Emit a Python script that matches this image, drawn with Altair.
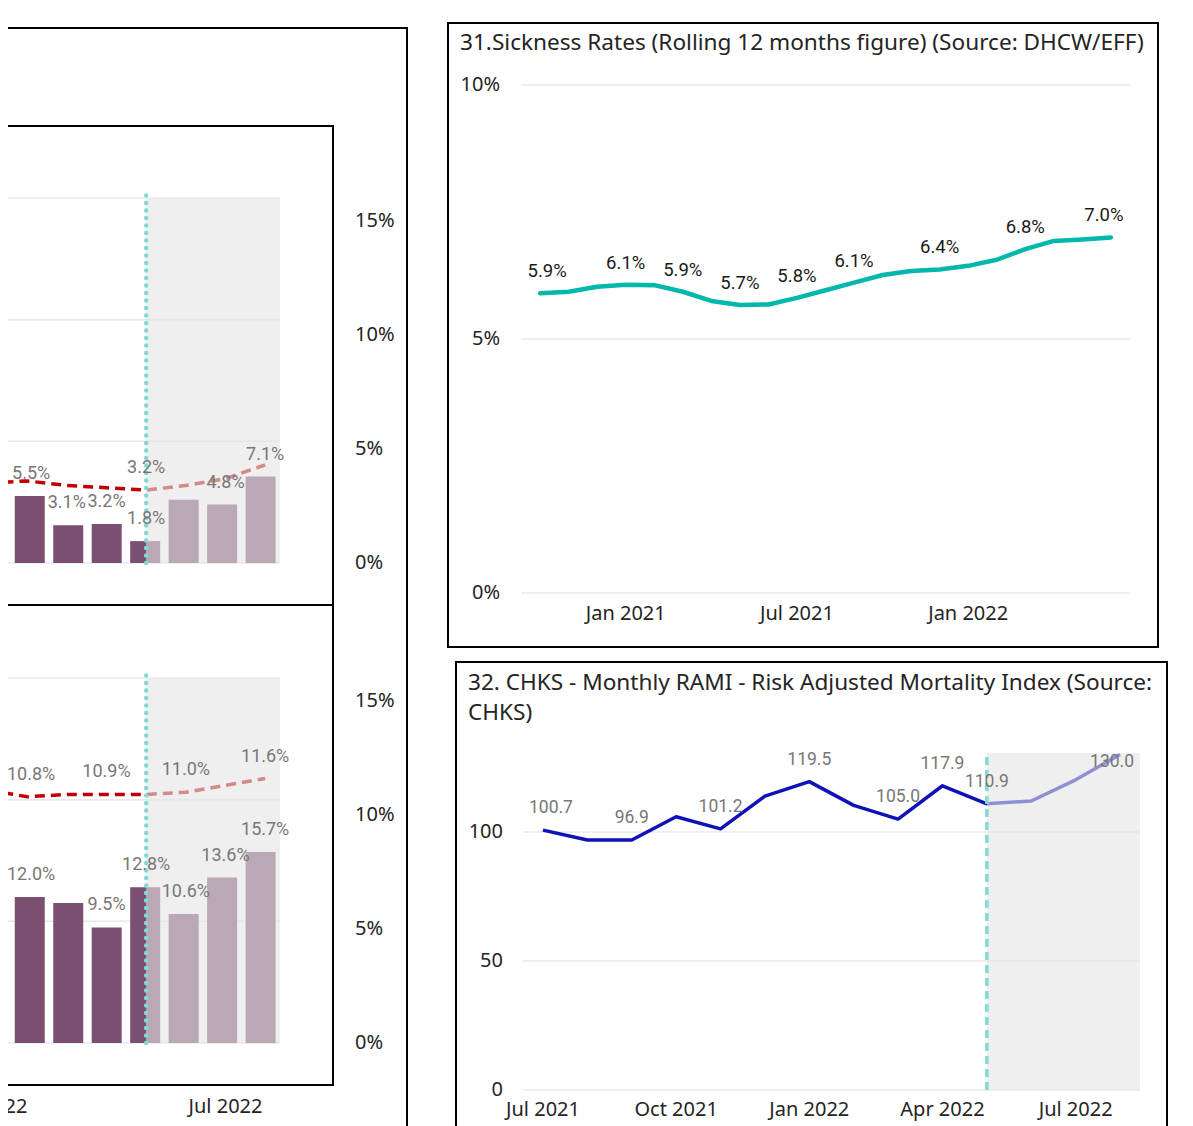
import altair as alt
import pandas as pd

# ---------------- data ----------------
left_months = ["Jan 2022", "Feb 2022", "Mar 2022", "Apr 2022", "May 2022", "Jun 2022", "Jul 2022", "Aug 2022"]
top_bar_vals = [3.5, 5.5, 3.1, 3.2, 1.8, 5.2, 4.8, 7.1]
top_bar_show = [0, 1, 1, 1, 1, 0, 1, 1]
top_line_vals = [3.5, 3.6, 3.4, 3.3, 3.2, 3.4, 3.7, 4.3]
top_line_show = [0, 0, 0, 0, 1, 0, 0, 0]
bot_bar_vals = [11.9, 12.0, 11.5, 9.5, 12.8, 10.6, 13.6, 15.7]
bot_bar_show = [0, 1, 0, 1, 1, 1, 1, 1]
bot_line_vals = [11.1, 10.8, 10.9, 10.9, 10.9, 11.0, 11.3, 11.6]
bot_line_show = [0, 1, 0, 1, 0, 1, 0, 1]
left_xtick_idx = [0, 6]
left_xtick_labels = ["Jan 2022", "Jul 2022"]
left_right_ticks = [0, 5, 10, 15]
left_bar_grid = [0, 10, 20, 30]
left_forecast_start = 4  # May 2022

sick_title = "31.Sickness Rates (Rolling 12 months figure) (Source: DHCW/EFF)"
sick_months = ["Oct 2020", "Nov 2020", "Dec 2020", "Jan 2021", "Feb 2021", "Mar 2021", "Apr 2021",
               "May 2021", "Jun 2021", "Jul 2021", "Aug 2021", "Sep 2021", "Oct 2021", "Nov 2021",
               "Dec 2021", "Jan 2022", "Feb 2022", "Mar 2022", "Apr 2022", "May 2022", "Jun 2022"]
sick_vals = [5.90, 5.93, 6.03, 6.07, 6.06, 5.93, 5.75, 5.67, 5.68, 5.81, 5.96,
             6.11, 6.26, 6.34, 6.37, 6.44, 6.56, 6.77, 6.93, 6.96, 7.00]
sick_show = [1, 0, 0, 1, 0, 1, 0, 1, 0, 1, 0, 1, 0, 0, 1, 0, 0, 1, 0, 0, 1]
sick_yticks = [0, 5, 10]
sick_xtick_idx = [3, 9, 15]
sick_xtick_labels = ["Jan 2021", "Jul 2021", "Jan 2022"]

rami_title_lines = ["32. CHKS - Monthly RAMI - Risk Adjusted Mortality Index (Source:", "CHKS)"]
rami_months = ["Jul 2021", "Aug 2021", "Sep 2021", "Oct 2021", "Nov 2021", "Dec 2021", "Jan 2022",
               "Feb 2022", "Mar 2022", "Apr 2022", "May 2022", "Jun 2022", "Jul 2022", "Aug 2022"]
rami_vals = [100.7, 96.9, 96.9, 105.9, 101.2, 113.9, 119.5, 110.3, 105.0, 117.9, 110.9, 112.0, 120.2, 130.0]
rami_show = [1, 0, 1, 0, 1, 0, 1, 0, 1, 1, 1, 0, 0, 1]
rami_yticks = [0, 50, 100]
rami_xtick_idx = [0, 3, 6, 9, 12]
rami_xtick_labels = ["Jul 2021", "Oct 2021", "Jan 2022", "Apr 2022", "Jul 2022"]
rami_forecast_start = 10  # May 2022

# ---------------- layout helpers ----------------
def P(v):
    return v - 8  # page px -> canvas px


def sc(domain, rng):
    return alt.Scale(domain=domain, range=rng, nice=False, zero=False)


AXIS_FONT = "Noto Sans"
AXIS_SIZE = 20
TITLE_SIZE = 22.6
LABEL_FONT = "Roboto"
TXT = "#252423"
GREY_LBL = "#777777"
OVERLAY = "#E4E4E4"
TEAL_REF = "#7FDBD3"

one = pd.DataFrame({"k": [0]})
layers = []


def frame(x0, x1, y0, y1):
    return alt.Chart(one).mark_rect(fillOpacity=0, stroke="#000000", strokeWidth=2).encode(
        x=alt.value(P(x0)), x2=alt.value(P(x1)), y=alt.value(P(y0)), y2=alt.value(P(y1)))


# ---------------- left panels ----------------
LX_MAX = 7.374
LX = sc([-1, LX_MAX], [P(-52.2), P(280)])


def left_panel(bar_vals, bar_show, line_vals, line_show, ybar, yline, xticks):
    df = pd.DataFrame({
        "month": left_months, "i": list(range(len(left_months))),
        "bar": bar_vals, "line": line_vals,
        "bar_lbl": [f"{v:.1f}%" for v in bar_vals],
        "line_lbl": [f"{v:.1f}%" for v in line_vals],
        "bs": bar_show, "ls": line_show,
    })
    out = []
    out.append(alt.Chart(pd.DataFrame({"g": left_bar_grid})).mark_rule(color="#E8E8E8", strokeWidth=1.5).encode(
        y=alt.Y("g:Q", scale=ybar, axis=None), x=alt.value(P(-20)), x2=alt.value(P(280))))
    out.append(alt.Chart(df).mark_bar(size=30, color="#7B4F72").encode(
        x=alt.X("i:Q", scale=LX, axis=None),
        y=alt.Y("bar:Q", scale=ybar, axis=None), y2=alt.Y2Datum(0)))
    out.append(alt.Chart(df).mark_line(color="#C00000", strokeWidth=3.5, strokeDash=[10, 6]).encode(
        x=alt.X("i:Q", scale=LX, axis=None), y=alt.Y("line:Q", scale=yline, axis=None)))
    out.append(alt.Chart(one).mark_rect(color=OVERLAY, opacity=0.6).encode(
        x=alt.XDatum(left_forecast_start, type="quantitative", scale=LX, axis=None),
        x2=alt.X2Datum(LX_MAX),
        y=alt.YDatum(0, type="quantitative", scale=ybar, axis=None), y2=alt.Y2Datum(30)))
    out.append(alt.Chart(one).mark_rule(color=TEAL_REF, strokeWidth=4.5, strokeDash=[0.1, 7.4], strokeCap="round").encode(
        x=alt.XDatum(left_forecast_start, type="quantitative", scale=LX, axis=None),
        y=alt.YDatum(0, type="quantitative", scale=ybar, axis=None), y2=alt.Y2Datum(30.3)))
    for field, flag, yscale in [("bar", "bs", ybar), ("line", "ls", yline)]:
        for flt, dx in [(f"datum.{flag} == 1 && datum.i > 1", 0), (f"datum.{flag} == 1 && datum.i == 1", 4)]:
            out.append(alt.Chart(df).transform_filter(flt).mark_text(
                font=LABEL_FONT, fontSize=18, color=GREY_LBL, dy=-22, dx=dx, baseline="middle").encode(
                x=alt.X("i:Q", scale=LX, axis=None), y=alt.Y(f"{field}:Q", scale=yscale, axis=None),
                text=f"{field}_lbl:N"))
    rt = pd.DataFrame({"t": left_right_ticks, "lbl": [f"{t}%" for t in left_right_ticks]})
    out.append(alt.Chart(rt).mark_text(font=AXIS_FONT, fontSize=AXIS_SIZE, color=TXT, align="left", baseline="middle").encode(
        x=alt.value(P(355)), y=alt.Y("t:Q", scale=yline, axis=None), text="lbl:N"))
    if xticks:
        xt = pd.DataFrame({"i": left_xtick_idx, "lbl": left_xtick_labels})
        out.append(alt.Chart(xt).mark_text(font=AXIS_FONT, fontSize=AXIS_SIZE, color=TXT, baseline="middle").encode(
            x=alt.X("i:Q", scale=LX, axis=None), y=alt.value(P(1107)), text="lbl:N"))
    return out


layers += left_panel(top_bar_vals, top_bar_show, top_line_vals, top_line_show,
                     sc([0, 30], [P(563), P(198)]), sc([0, 15], [P(563), P(221)]), False)
layers += left_panel(bot_bar_vals, bot_bar_show, bot_line_vals, bot_line_show,
                     sc([0, 30], [P(1043), P(678)]), sc([0, 15], [P(1043), P(701)]), True)
layers.append(frame(-10, 407, 28, 1140))
layers.append(frame(-10, 333, 126, 605))
layers.append(frame(-10, 333, 605, 1085))

# ---------------- sickness chart ----------------
SX = sc([-0.67, 20.67], [P(521), P(1130)])
SY = sc([0, 10], [P(593), P(85)])
sdf = pd.DataFrame({"month": sick_months, "i": list(range(len(sick_months))), "v": sick_vals,
                    "lbl": [f"{v:.1f}%" for v in sick_vals], "s": sick_show})
layers.append(frame(448, 1158, 23, 647))
layers.append(alt.Chart(pd.DataFrame({"t": [sick_title]})).mark_text(
    font=AXIS_FONT, fontSize=TITLE_SIZE, color=TXT, align="left", baseline="middle").encode(
    x=alt.value(P(460)), y=alt.value(P(43)), text="t:N"))
layers.append(alt.Chart(pd.DataFrame({"g": sick_yticks})).mark_rule(color="#E8E8E8", strokeWidth=1.5).encode(
    y=alt.Y("g:Q", scale=SY, axis=None), x=alt.value(P(521)), x2=alt.value(P(1130))))
layers.append(alt.Chart(pd.DataFrame({"t": sick_yticks, "lbl": [f"{t}%" for t in sick_yticks]})).mark_text(
    font=AXIS_FONT, fontSize=AXIS_SIZE, color=TXT, align="right", baseline="middle").encode(
    x=alt.value(P(500)), y=alt.Y("t:Q", scale=SY, axis=None), text="lbl:N"))
layers.append(alt.Chart(pd.DataFrame({"i": sick_xtick_idx, "lbl": sick_xtick_labels})).mark_text(
    font=AXIS_FONT, fontSize=AXIS_SIZE, color=TXT, baseline="middle").encode(
    x=alt.X("i:Q", scale=SX, axis=None), y=alt.value(P(614)), text="lbl:N"))
layers.append(alt.Chart(sdf).mark_line(color="#01B8AA", strokeWidth=4.5, strokeJoin="round", strokeCap="round").encode(
    x=alt.X("i:Q", scale=SX, axis=None), y=alt.Y("v:Q", scale=SY, axis=None)))
last_s = len(sick_vals) - 1
for flt, dx in [(f"datum.s == 1 && datum.i > 0 && datum.i < {last_s}", 0),
                ("datum.i == 0", 7), (f"datum.i == {last_s}", -7)]:
    layers.append(alt.Chart(sdf).transform_filter(flt).mark_text(
        font=LABEL_FONT, fontSize=18.5, color="#1a1a1a", dy=-22, dx=dx, baseline="middle").encode(
        x=alt.X("i:Q", scale=SX, axis=None), y=alt.Y("v:Q", scale=SY, axis=None), text="lbl:N"))

# ---------------- RAMI chart ----------------
RX_MAX = 13.45
RY_MAX = 130.6
RX = sc([-0.45, RX_MAX], [P(523), P(1140)])
RY = sc([0, RY_MAX], [P(1090), P(753)])
rdf = pd.DataFrame({"month": rami_months, "i": list(range(len(rami_months))), "v": rami_vals,
                    "lbl": [f"{v:.1f}" for v in rami_vals], "s": rami_show})
layers.append(frame(456, 1167, 662, 1140))
layers.append(alt.Chart(pd.DataFrame({"t": ["\n".join(rami_title_lines)]})).mark_text(
    font=AXIS_FONT, fontSize=TITLE_SIZE, color=TXT, align="left", baseline="middle", lineBreak="\n", lineHeight=30).encode(
    x=alt.value(P(468)), y=alt.value(P(683)), text="t:N"))
layers.append(alt.Chart(pd.DataFrame({"g": rami_yticks})).mark_rule(color="#E8E8E8", strokeWidth=1.5).encode(
    y=alt.Y("g:Q", scale=RY, axis=None), x=alt.value(P(523)), x2=alt.value(P(1140))))
layers.append(alt.Chart(pd.DataFrame({"t": rami_yticks, "lbl": [str(t) for t in rami_yticks]})).mark_text(
    font=AXIS_FONT, fontSize=AXIS_SIZE, color=TXT, align="right", baseline="middle").encode(
    x=alt.value(P(503)), y=alt.Y("t:Q", scale=RY, axis=None), text="lbl:N"))
layers.append(alt.Chart(pd.DataFrame({"i": rami_xtick_idx, "lbl": rami_xtick_labels})).mark_text(
    font=AXIS_FONT, fontSize=AXIS_SIZE, color=TXT, baseline="middle").encode(
    x=alt.X("i:Q", scale=RX, axis=None), y=alt.value(P(1110)), text="lbl:N"))
layers.append(alt.Chart(rdf).mark_line(color="#1111B8", strokeWidth=3.5, strokeJoin="round").encode(
    x=alt.X("i:Q", scale=RX, axis=None), y=alt.Y("v:Q", scale=RY, axis=None)))
layers.append(alt.Chart(one).mark_rect(color=OVERLAY, opacity=0.6).encode(
    x=alt.XDatum(rami_forecast_start, type="quantitative", scale=RX, axis=None), x2=alt.X2Datum(RX_MAX),
    y=alt.YDatum(0, type="quantitative", scale=RY, axis=None), y2=alt.Y2Datum(RY_MAX)))
layers.append(alt.Chart(one).mark_rule(color=TEAL_REF, strokeWidth=3.5, strokeDash=[8, 5]).encode(
    x=alt.XDatum(rami_forecast_start, type="quantitative", scale=RX, axis=None),
    y=alt.YDatum(0, type="quantitative", scale=RY, axis=None), y2=alt.Y2Datum(RY_MAX)))
last_r = len(rami_vals) - 1
for flt, dx, dy in [(f"datum.s == 1 && datum.i > 0 && datum.i < {last_r}", 0, -22),
                    ("datum.i == 0", 8, -22), (f"datum.i == {last_r}", -8, 7)]:
    layers.append(alt.Chart(rdf).transform_filter(flt).mark_text(
        font=LABEL_FONT, fontSize=17.5, color=GREY_LBL, dy=dy, dx=dx, baseline="middle").encode(
        x=alt.X("i:Q", scale=RX, axis=None), y=alt.Y("v:Q", scale=RY, axis=None), text="lbl:N"))

chart = alt.layer(*layers).resolve_scale(x="independent", y="independent").properties(
    width=1177, height=1118, padding=0, autosize=alt.AutoSizeParams(type="none"),
    background="#FFFFFF").configure_view(strokeWidth=0)

chart.save("out.html", embed_options={"renderer": "svg", "actions": False})
